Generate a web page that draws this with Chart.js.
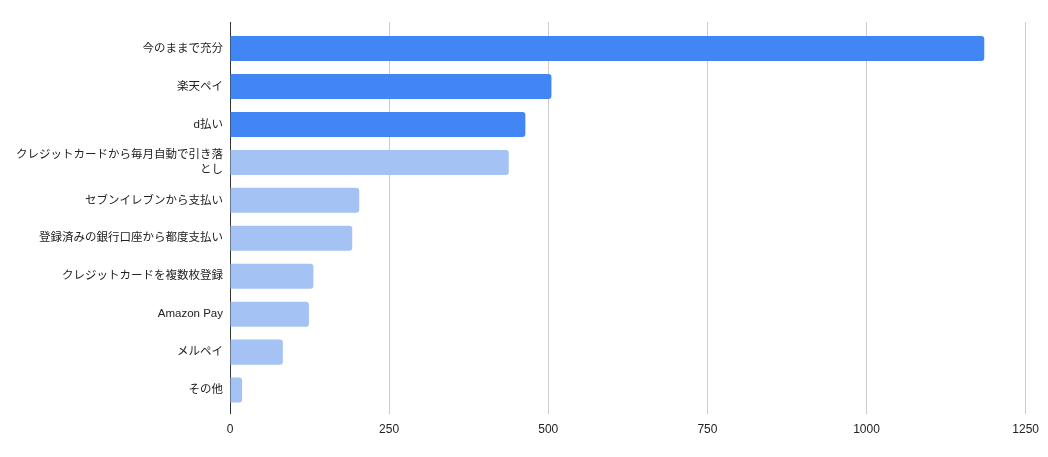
<!DOCTYPE html>
<html>
<head>
<meta charset="utf-8">
<script src="https://cdn.jsdelivr.net/npm/chart.js@4"></script>
<style>
  html, body { margin: 0; padding: 0; background: #fff; }
  #wrap { width: 1048px; height: 457px; }
</style>
</head>
<body>
<div id="wrap"><canvas id="payChart"></canvas></div>
<script>
// categories (long one wrapped the way the reference shows it)
const categories = [
    '今のままで充分',
    '楽天ペイ',
    'd払い',
    ['クレジットカードから毎月自動で引き落', 'とし'],
    'セブンイレブンから支払い',
    '登録済みの銀行口座から都度支払い',
    'クレジットカードを複数枚登録',
    'Amazon Pay',
    'メルペイ',
    'その他'
];

// answers per option
const counts = [1185, 505, 464, 438, 203, 192, 131, 124, 83, 19];

// first three are highlighted
const barColors = counts.map((v, i) => i < 3 ? '#4285f4' : '#a4c2f4');

const xTicks = [0, 250, 500, 750, 1000, 1250];

// a little extra room above the first bar and below the last one
const bandPad = {
    id: 'bandPad',
    afterLayout(chart) {
        const y = chart.scales.y;
        y._startValue -= 0.2;
        y._valueRange += 0.32;
    }
};

const ctx = document.getElementById('payChart').getContext('2d');
const payChart = new Chart(ctx, {
    type: 'bar',
    data: {
        labels: categories,
        datasets: [{
            data: counts,
            backgroundColor: barColors,
            borderRadius: 3,
            borderSkipped: 'start',
            barPercentage: 0.66,
            categoryPercentage: 1
        }]
    },
    options: {
        indexAxis: 'y',
        responsive: true,
        maintainAspectRatio: false,
        animation: false,
        layout: { padding: { top: 22, right: 10, bottom: 11, left: 0 } },
        plugins: {
            legend: { display: false },
            tooltip: { enabled: false }
        },
        scales: {
            x: {
                min: 0,
                max: 1250,
                afterBuildTicks: (scale) => {
                    scale.ticks = xTicks.map(v => ({ value: v }));
                },
                grid: { color: '#cccccc', drawTicks: false },
                border: { display: false },
                ticks: {
                    padding: 9,
                    color: '#222',
                    callback: (v) => String(v),
                    font: { family: "Arial, 'Liberation Sans', 'Noto Sans CJK JP'", size: 12 }
                }
            },
            y: {
                grid: { display: false, drawTicks: false },
                border: { display: true, color: '#333', width: 1 },
                afterFit: (scale) => { scale.width = 230; },
                ticks: {
                    padding: 7,
                    color: '#222',
                    autoSkip: false,
                    font: { family: "Arial, 'Liberation Sans', 'Noto Sans CJK JP'", size: 11.5, lineHeight: 1.25 }
                }
            }
        }
    },
    plugins: [bandPad]
});
</script>
</body>
</html>
